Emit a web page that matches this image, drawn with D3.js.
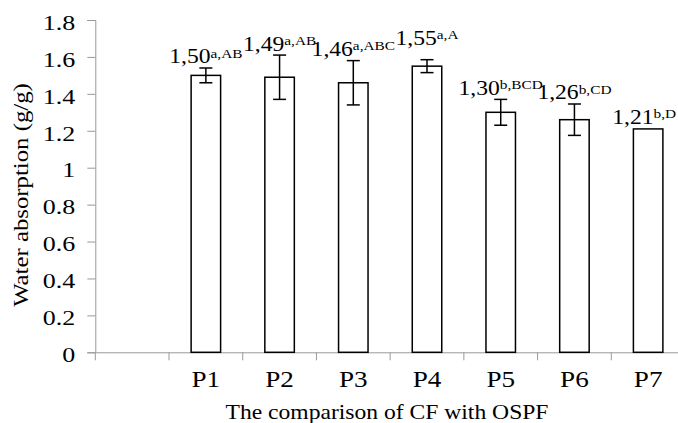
<!DOCTYPE html>
<html>
<head>
<meta charset="utf-8">
<script src="https://cdn.jsdelivr.net/npm/d3@7"></script>
<style>
    body { margin: 0; background: #fff; }
    svg { display: block; }
</style>
</head>
<body>
<div id="chart"></div>
<script>
// data
let groups = ['P1', 'P2', 'P3', 'P4', 'P5', 'P6', 'P7'];
let absorption = [1.50, 1.49, 1.46, 1.55, 1.30, 1.26, 1.21];
let errors = [0.04, 0.12, 0.12, 0.035, 0.07, 0.085, 0];
let valueLabels = ['1,50', '1,49', '1,46', '1,55', '1,30', '1,26', '1,21'];
let letterLabels = ['a,AB', 'a,AB', 'a,ABC', 'a,A', 'b,BCD', 'b,CD', 'b,D'];
let yTicks = [0, 0.2, 0.4, 0.6, 0.8, 1, 1.2, 1.4, 1.6, 1.8];

// layout
let W = 678, H = 423;
let serif = '"Liberation Serif", "Times New Roman", Times, serif';
let stretch = 1.18;          // glyphs in the figure are drawn wide
let labelLift = [0, 0, 0, 10, 0, 0, 0];
let labelShift = [0, 0, 0, 0, 0, 0, -4];

let svg = d3.select('#chart')
    .append('svg')
    .attr('width', W)
    .attr('height', H)
    .style('font-family', serif);

let x = d3.scaleBand()
    .domain([''].concat(groups))
    .range([95.3, 685])
    .padding(0);

let y = d3.scaleLinear()
    .domain([0, 1.8])
    .range([352.3, 20]);

let axisColor = '#999';

// y axis
let yAxis = d3.axisLeft(y)
    .tickValues(yTicks)
    .tickSize(8)
    .tickPadding(9)
    .tickFormat(d => d3.format('')(d));

let gy = svg.append('g')
    .attr('transform', `translate(${x.range()[0]},0)`)
    .call(yAxis)
    .attr('font-family', null);
gy.select('.domain').attr('stroke', axisColor);
gy.selectAll('.tick line').attr('stroke', axisColor);
gy.selectAll('.tick text')
    .style('font-family', serif)
    .attr('font-size', 22)
    .attr('dy', '0.42em')
    .attr('transform', `scale(${stretch},1)`);

// x axis: line, boundary ticks, centred labels
let xAxis = d3.axisBottom(x)
    .tickSize(0)
    .tickPadding(18);

let gx = svg.append('g')
    .attr('transform', `translate(0,${y(0)})`)
    .call(xAxis)
    .attr('font-family', null);
gx.select('.domain').attr('stroke', axisColor);
gx.selectAll('.tick text')
    .style('font-family', serif)
    .attr('font-size', 23)
    .attr('transform', `scale(${stretch},1)`);

gx.selectAll('.edge')
    .data(x.domain())
    .enter()
    .append('line')
    .attr('class', 'edge')
    .attr('x1', d => x(d))
    .attr('x2', d => x(d))
    .attr('y1', 0)
    .attr('y2', 8)
    .attr('stroke', axisColor);

// bars
let rows = groups.map((g, i) => ({
    group: g, value: absorption[i], err: errors[i],
    label: valueLabels[i], letters: letterLabels[i],
    lift: labelLift[i], shift: labelShift[i]
}));

let bw = x.bandwidth() * 0.4;

svg.selectAll('.bar')
    .data(rows)
    .enter()
    .append('rect')
    .attr('class', 'bar')
    .attr('x', d => x(d.group) + x.bandwidth() / 2 - bw / 2)
    .attr('y', d => y(d.value))
    .attr('width', bw)
    .attr('height', d => y(0) - y(d.value))
    .attr('fill', '#fff')
    .attr('stroke', '#000')
    .attr('stroke-width', 1.5);

// error bars
let eb = svg.selectAll('.err')
    .data(rows.filter(d => d.err > 0))
    .enter()
    .append('g')
    .attr('class', 'err')
    .attr('transform', d => `translate(${x(d.group) + x.bandwidth() / 2},0)`)
    .attr('stroke', '#000')
    .attr('stroke-width', 1.5);

eb.append('line')
    .attr('y1', d => y(d.value + d.err))
    .attr('y2', d => y(d.value - d.err));
eb.append('line')
    .attr('x1', -6.5).attr('x2', 6.5)
    .attr('y1', d => y(d.value + d.err))
    .attr('y2', d => y(d.value + d.err));
eb.append('line')
    .attr('x1', -6.5).attr('x2', 6.5)
    .attr('y1', d => y(d.value - d.err))
    .attr('y2', d => y(d.value - d.err));

// value labels with superscript letters
let lab = svg.selectAll('.lab')
    .data(rows)
    .enter()
    .append('g')
    .attr('class', 'lab')
    .attr('transform', d => `translate(${x(d.group) + x.bandwidth() / 2 + d.shift},${y(d.value + d.err) - 4.5 - d.lift}) scale(${stretch},1)`)
    .append('text')
    .attr('text-anchor', 'middle')
    .attr('font-size', 20);

lab.append('tspan').text(d => d.label);
lab.append('tspan')
    .attr('font-size', 13)
    .attr('dy', -6)
    .text(d => d.letters);

// axis titles
svg.append('text')
    .attr('transform', `translate(387,419) scale(${stretch},1)`)
    .attr('text-anchor', 'middle')
    .attr('font-size', 20)
    .text('The comparison of CF with OSPF');

svg.append('text')
    .attr('transform', `translate(27.5,195) rotate(-90) scale(${stretch},1)`)
    .attr('text-anchor', 'middle')
    .attr('font-size', 21)
    .text('Water absorption (g/g)');
</script>
</body>
</html>
